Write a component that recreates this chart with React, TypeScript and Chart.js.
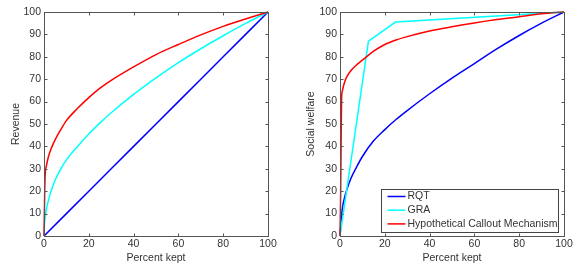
import React, { useEffect, useRef } from "react";
import { Chart, registerables } from "chart.js";

Chart.register(...registerables);

// ---------- data ----------
const xTickValues = [0, 20, 40, 60, 80, 100];
const yTickValues = [0, 10, 20, 30, 40, 50, 60, 70, 80, 90, 100];
const seriesNames = ["RQT", "GRA", "Hypothetical Callout Mechanism"];
const seriesColors = ["#0000ff", "#00ffff", "#ff0000"];

// Left panel: Revenue
const revenueRqtX = [0, 10, 20, 30, 40, 50, 60, 70, 80, 90, 100];
const revenueRqtY = [0, 10, 20, 30, 40, 50, 60, 70, 80, 90, 100];
const revenueGraX = [0, 0.2, 0.5, 1, 2, 3, 5, 7.5, 10, 15, 20, 25, 30, 40, 50, 60, 70, 80, 90, 100];
const revenueGraY = [0, 5, 8, 11.5, 16, 19.5, 25, 30, 34, 40, 45.5, 50.5, 55, 63.2, 70.6, 77.4, 83.6, 89.4, 94.9, 100];
const revenueHcmX = [0, 0.2, 0.4, 0.6, 1, 2, 3, 5, 7.5, 10, 15, 20, 25, 30, 40, 50, 60, 70, 80, 90, 100];
const revenueHcmY = [0, 12, 24, 28.5, 31, 35.5, 38.5, 43, 47.5, 51.5, 57, 61.8, 66, 69.5, 75.5, 81, 85.5, 89.8, 93.6, 96.9, 100];

// Right panel: Social welfare
const welfareRqtX = [0, 0.5, 1, 2, 3, 5, 7.5, 10, 15, 20, 25, 30, 40, 50, 60, 70, 80, 90, 100];
const welfareRqtY = [0, 7, 12, 17, 20.5, 26, 31, 35.5, 42.5, 47.5, 52, 56, 63.5, 70.5, 77, 83.5, 89.5, 95, 100];
const welfareGraX = [0, 12.7, 24.8, 100];
const welfareGraY = [0, 87, 95.5, 100];
const welfareHcmX = [0, 0.3, 0.5, 0.7, 1, 2, 3, 5, 7.5, 10, 15, 20, 25, 30, 40, 50, 60, 70, 80, 90, 100];
const welfareHcmY = [0, 20, 42, 61, 64.5, 68.5, 71, 74, 76.5, 78.5, 82.5, 85.5, 87.5, 89, 91.5, 93.4, 95.1, 96.6, 97.9, 99.2, 100];

// ---------- style ----------
const FONT_FAMILY = "'Liberation Sans', Arial, Helvetica, sans-serif";
const FONT_SIZE = 10.5;
const TEXT_COLOR = "#333333";
const AXIS_COLOR = "#555555";
const TICK_LEN = 3;

const toPoints = (xs: number[], ys: number[]) => xs.map((x, i) => ({ x, y: ys[i] }));

const boxPlugin = {
  id: "matlabBox",
  afterDraw(chart: any) {
    const { ctx, chartArea: a, scales } = chart;
    const xs = scales.x;
    const ys = scales.y;
    ctx.save();
    ctx.strokeStyle = AXIS_COLOR;
    ctx.lineWidth = 1;
    const L = Math.round(a.left) + 0.5;
    const R = Math.round(a.right) + 0.5;
    const T = Math.round(a.top) + 0.5;
    const B = Math.round(a.bottom) + 0.5;
    ctx.beginPath();
    xs.ticks.forEach((t: any) => {
      const p = Math.round(xs.getPixelForValue(t.value)) + 0.5;
      ctx.moveTo(p, B);
      ctx.lineTo(p, B - TICK_LEN);
      ctx.moveTo(p, T);
      ctx.lineTo(p, T + TICK_LEN);
    });
    ys.ticks.forEach((t: any) => {
      const p = Math.round(ys.getPixelForValue(t.value)) + 0.5;
      ctx.moveTo(L, p);
      ctx.lineTo(L + TICK_LEN, p);
      ctx.moveTo(R, p);
      ctx.lineTo(R - TICK_LEN, p);
    });
    ctx.stroke();
    ctx.strokeRect(L, T, R - L, B - T);

    const lg = chart.options.plugins.matlabLegend;
    if (lg && lg.show) {
      ctx.font = `${FONT_SIZE}px ${FONT_FAMILY}`;
      const labels = chart.data.datasets.map((d: any) => d.label);
      const textW = Math.max(...labels.map((l: string) => ctx.measureText(l).width));
      const boxW = Math.round(6 + 18 + 2 + textW + 1);
      const boxH = 43;
      const bx = Math.round(a.right - 6 - boxW) + 0.5;
      const by = Math.round(a.bottom - 4 - boxH) + 0.5;
      ctx.fillStyle = "#ffffff";
      ctx.fillRect(bx, by, boxW, boxH);
      ctx.strokeStyle = "#444444";
      ctx.strokeRect(bx, by, boxW, boxH);
      chart.data.datasets.forEach((d: any, i: number) => {
        const cy = by + 7 + i * 13.7;
        ctx.strokeStyle = d.borderColor;
        ctx.lineWidth = 1.5;
        ctx.beginPath();
        ctx.moveTo(bx + 6, cy);
        ctx.lineTo(bx + 24, cy);
        ctx.stroke();
        ctx.fillStyle = TEXT_COLOR;
        ctx.textBaseline = "middle";
        ctx.textAlign = "left";
        ctx.fillText(d.label, bx + 26, cy);
      });
    }
    ctx.restore();
  },
};

type PanelProps = {
  left: number;
  width: number;
  yAxisWidth: number;
  rightPad: number;
  yTitle: string;
  yTitlePad: number;
  series: { xs: number[]; ys: number[]; smooth: boolean }[];
  legend: boolean;
};

function Panel(props: PanelProps) {
  const ref = useRef<HTMLCanvasElement | null>(null);
  useEffect(() => {
    if (!ref.current) return;
    const font = { family: FONT_FAMILY, size: FONT_SIZE };
    const chart = new Chart(ref.current, {
      type: "line",
      data: {
        datasets: props.series.map((s, i) => ({
          label: seriesNames[i],
          data: toPoints(s.xs, s.ys),
          borderColor: seriesColors[i],
          backgroundColor: seriesColors[i],
          borderWidth: 1.5,
          pointRadius: 0,
          fill: false,
          tension: s.smooth ? 0.4 : 0,
          cubicInterpolationMode: s.smooth ? "monotone" : "default",
          clip: false,
          order: 2 - i,
        })),
      },
      plugins: [boxPlugin],
      options: {
        animation: false,
        responsive: false,
        layout: { padding: { top: 12, right: props.rightPad, left: 0, bottom: 0 } },
        plugins: {
          legend: { display: false },
          tooltip: { enabled: false },
          // @ts-ignore
          matlabLegend: { show: props.legend },
        },
        scales: {
          x: {
            type: "linear",
            min: 0,
            max: 100,
            afterBuildTicks: (scale: any) => {
              scale.ticks = xTickValues.map((v) => ({ value: v }));
            },
            afterFit: (scale: any) => {
              scale.height = 32;
            },
            grid: { display: false, drawTicks: false, tickLength: 0 },
            border: { display: false },
            ticks: { font, color: TEXT_COLOR, padding: 2, maxRotation: 0, autoSkip: false },
            title: { display: true, text: "Percent kept", font, color: TEXT_COLOR, padding: { top: 0, bottom: 3.5 } },
          },
          y: {
            type: "linear",
            min: 0,
            max: 100,
            afterBuildTicks: (scale: any) => {
              scale.ticks = yTickValues.map((v) => ({ value: v }));
            },
            afterFit: (scale: any) => {
              scale.width = props.yAxisWidth;
            },
            grid: { display: false, drawTicks: false, tickLength: 0 },
            border: { display: false },
            ticks: { font, color: TEXT_COLOR, padding: 3, autoSkip: false },
            title: { display: true, text: props.yTitle, font, color: TEXT_COLOR, padding: { top: props.yTitlePad, bottom: 0 } },
          },
        },
      },
    } as any);
    return () => chart.destroy();
  }, []);
  return (
    <canvas
      ref={ref}
      width={props.width}
      height={268}
      style={{ position: "absolute", left: props.left, top: 0, width: props.width, height: 268 }}
    />
  );
}

export default function App() {
  return (
    <div style={{ position: "fixed", left: 0, top: 0, width: 581, height: 268, background: "#ffffff", overflow: "hidden" }}>
      <Panel
        left={0}
        width={290}
        yAxisWidth={44}
        rightPad={22}
        yTitle="Revenue"
        yTitlePad={10}
        legend={false}
        series={[
          { xs: revenueRqtX, ys: revenueRqtY, smooth: false },
          { xs: revenueGraX, ys: revenueGraY, smooth: true },
          { xs: revenueHcmX, ys: revenueHcmY, smooth: true },
        ]}
      />
      <Panel
        left={290}
        width={291}
        yAxisWidth={50}
        rightPad={17}
        yTitle="Social welfare"
        yTitlePad={15}
        legend={true}
        series={[
          { xs: welfareRqtX, ys: welfareRqtY, smooth: true },
          { xs: welfareGraX, ys: welfareGraY, smooth: false },
          { xs: welfareHcmX, ys: welfareHcmY, smooth: true },
        ]}
      />
    </div>
  );
}
